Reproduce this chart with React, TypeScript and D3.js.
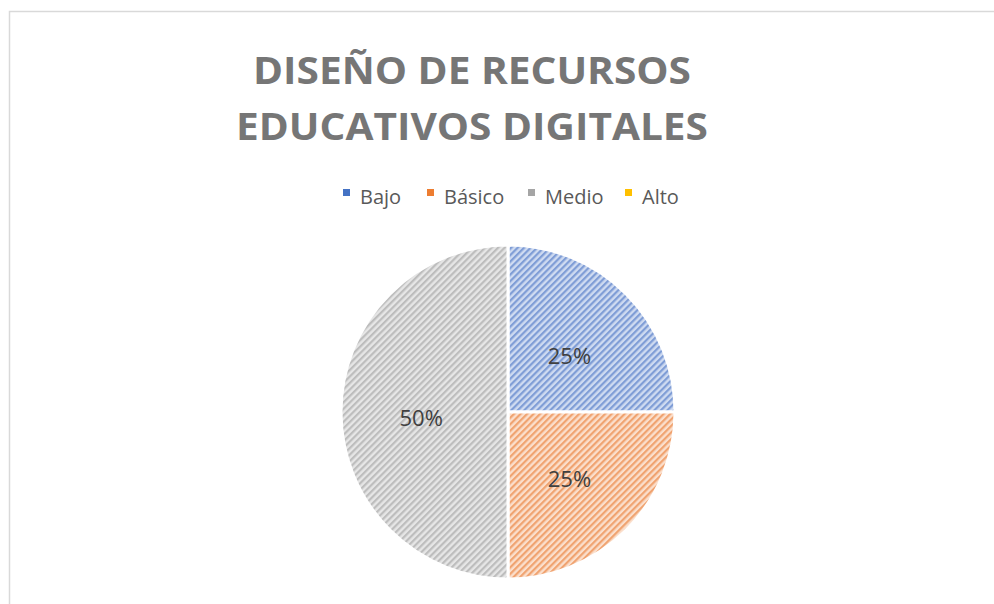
import React, { useEffect, useRef } from 'react';
import * as d3 from 'd3';

const categories = ['Bajo', 'Básico', 'Medio', 'Alto'];
const values = [25, 25, 50, 0];
const labels = ['25%', '25%', '50%', ''];
const titleLines = ['DISEÑO DE RECURSOS', 'EDUCATIVOS DIGITALES'];

const baseColors = ['#4472C4', '#ED7D31', '#A5A5A5', '#FFC000'];
const stripeColors = ['#7f9dd6', '#f0a370', '#bdbdbd', '#ffd566'];
const backColors = ['#cfdbf1', '#fbdfcc', '#e6e6e6', '#fff0c4'];

export default function App() {
  const svgRef = useRef<SVGSVGElement>(null);

  useEffect(() => {
    if (!svgRef.current) return;
    const W = 994, H = 604;
    const svg = d3.select(svgRef.current);
    svg.selectAll('*').remove();

    svg.append('rect').attr('width', W).attr('height', H).attr('fill', '#fff');

    // chart border (only top/left visible in the frame)
    svg.append('rect')
      .attr('x', 9.5).attr('y', 11.5)
      .attr('width', W + 20).attr('height', H + 20)
      .attr('fill', 'none').attr('stroke', '#d9d9d9').attr('stroke-width', 1.5);

    // stripe patterns, wide upward diagonal
    const defs = svg.append('defs');
    categories.forEach((c, i) => {
      const p = defs.append('pattern')
        .attr('id', `pat-${i}`)
        .attr('patternUnits', 'userSpaceOnUse')
        .attr('width', 4.6).attr('height', 4.6)
        .attr('patternTransform', 'rotate(45)');
      p.append('rect').attr('width', 4.6).attr('height', 4.6).attr('fill', backColors[i]);
      p.append('rect').attr('width', 2.2).attr('height', 4.6).attr('fill', stripeColors[i]);
    });

    // title
    const title = svg.append('text')
      .attr('text-anchor', 'middle')
      .attr('font-family', '"Open Sans", sans-serif')
      .attr('font-weight', 'bold')
      .attr('font-size', '38px')
      .attr('fill', '#767676');
    const titleWidths = [438, 472];
    titleLines.forEach((t, i) => {
      title.append('tspan')
        .attr('x', 472).attr('y', 84 + i * 56)
        .attr('textLength', titleWidths[i])
        .attr('lengthAdjust', 'spacingAndGlyphs')
        .text(t);
    });

    // legend
    const legendX = [343, 427, 528, 625];
    const lg = svg.append('g').attr('font-family', '"Open Sans", sans-serif').attr('font-size', '20px');
    categories.forEach((c, i) => {
      lg.append('rect')
        .attr('x', legendX[i]).attr('y', 189)
        .attr('width', 7).attr('height', 7)
        .attr('fill', baseColors[i]);
      lg.append('text')
        .attr('x', legendX[i] + 17).attr('y', 204)
        .attr('fill', '#595959')
        .text(c);
    });

    // pie
    const cx = 508, cy = 412, r = 167;
    const pie = d3.pie<number>().sort(null).value(d => d);
    const arcs = pie(values);
    const arc = d3.arc<d3.PieArcDatum<number>>().innerRadius(0).outerRadius(r);
    const g = svg.append('g').attr('transform', `translate(${cx},${cy})`);
    g.selectAll('path.slice').data(arcs.filter(d => d.value > 0)).join('path')
      .attr('class', 'slice')
      .attr('d', d => arc(d) as string)
      .attr('fill', d => `url(#pat-${d.index})`)
      .attr('stroke', '#fff')
      .attr('stroke-width', 3)
      .attr('stroke-linejoin', 'round');

    const labelArc = d3.arc<d3.PieArcDatum<number>>().innerRadius(r * 0.52).outerRadius(r * 0.52);
    g.selectAll('text.lbl').data(arcs.filter(d => d.value > 0)).join('text')
      .attr('class', 'lbl')
      .attr('transform', d => {
        const [x, y] = labelArc.centroid(d);
        return `translate(${x},${y})`;
      })
      .attr('text-anchor', 'middle')
      .attr('dy', '0.62em')
      .attr('font-family', '"Open Sans", sans-serif')
      .attr('font-size', '22px')
      .attr('fill', '#404040')
      .text(d => labels[d.index]);
  }, []);

  return (
    <div style={{ position: 'absolute', left: 0, top: 0 }}>
      <svg ref={svgRef} width={994} height={604} style={{ display: 'block' }} />
    </div>
  );
}
